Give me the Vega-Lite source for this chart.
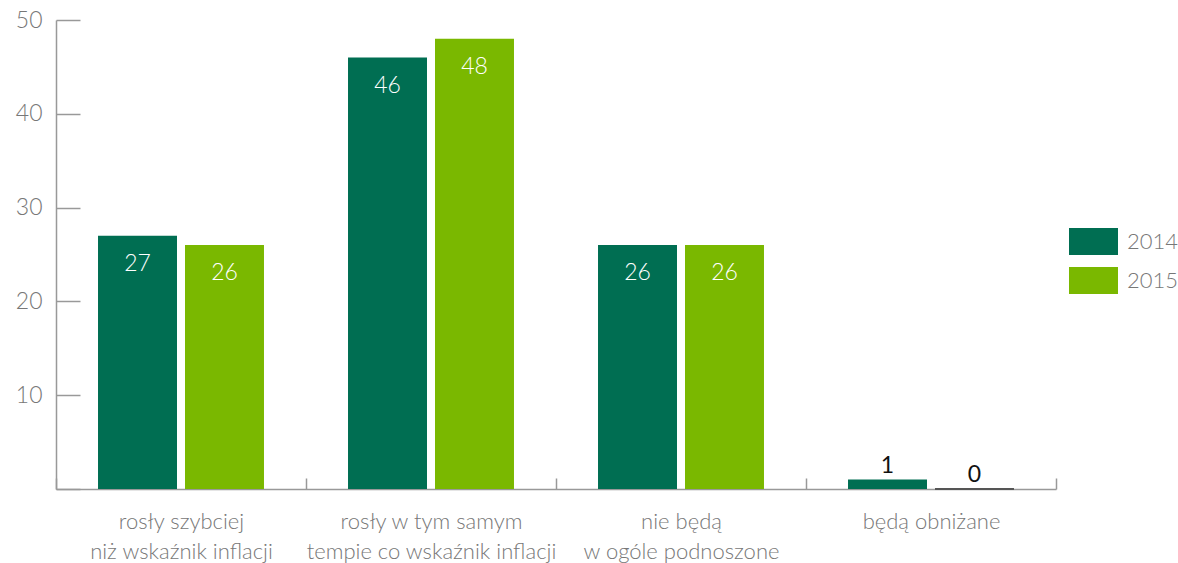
{
  "$schema": "https://vega.github.io/schema/vega-lite/v6.json",
  "width": 1000,
  "height": 469,
  "autosize": {"type": "none"},
  "padding": {"left": 56, "top": 20, "right": 122, "bottom": 74},
  "config": {
    "view": {"stroke": null},
    "font": "Lato",
    "axis": {"domainColor": "#999999", "tickColor": "#999999", "labelColor": "#777777", "grid": false, "title": null, "labelFont": "Lato", "labelFontWeight": 300, "domainWidth": 1.5, "tickWidth": 1.5}
  },
  "data": {
    "values": [
      {"cat": "rosły szybciej|niż wskaźnik inflacji", "year": "2014", "v": 27},
      {"cat": "rosły szybciej|niż wskaźnik inflacji", "year": "2015", "v": 26},
      {"cat": "rosły w tym samym|tempie co wskaźnik inflacji", "year": "2014", "v": 46},
      {"cat": "rosły w tym samym|tempie co wskaźnik inflacji", "year": "2015", "v": 48},
      {"cat": "nie będą|w ogóle podnoszone", "year": "2014", "v": 26},
      {"cat": "nie będą|w ogóle podnoszone", "year": "2015", "v": 26},
      {"cat": "będą obniżane", "year": "2014", "v": 1},
      {"cat": "będą obniżane", "year": "2015", "v": 0}
    ]
  },
  "encoding": {
    "x": {
      "field": "cat", "type": "nominal", "sort": null,
      "scale": {"paddingInner": 0, "paddingOuter": 0},
      "axis": {"labelAngle": 0, "labelExpr": "split(datum.label, '|')", "labelFontSize": 22, "labelLineHeight": 30, "labelPadding": 33, "tickBand": "extent", "tickSize": -11, "labelLimit": 300}
    },
    "xOffset": {"field": "year", "type": "nominal", "scale": {"paddingInner": 0.092, "paddingOuter": 0.483}},
    "y": {
      "field": "v", "type": "quantitative",
      "scale": {"domain": [0, 50]},
      "axis": {"values": [0, 10, 20, 30, 40, 50], "labelExpr": "datum.value == 0 ? '' : datum.label", "labelFontSize": 23, "tickSize": -24, "labelPadding": 38}
    }
  },
  "layer": [
    {
      "mark": {"type": "bar", "strokeWidth": 2},
      "encoding": {
        "color": {
          "field": "year", "type": "nominal",
          "scale": {"domain": ["2014", "2015"], "range": ["#006E52", "#7AB800"]},
          "legend": {"title": null, "orient": "none", "legendX": 1013, "legendY": 197, "symbolType": "M-1,-0.55H1V0.55H-1Z", "symbolSize": 2401, "symbolStrokeWidth": 0, "labelFontSize": 22, "labelFontWeight": 300, "labelColor": "#777777", "labelOffset": 9, "rowPadding": 1, "labelFont": "Lato"}
        },
        "stroke": {"condition": {"test": "datum.v === 0", "value": "#555555"}, "value": "transparent"}
      }
    },
    {
      "transform": [{"filter": "datum.v >= 5"}],
      "mark": {"type": "text", "baseline": "middle", "dy": 28, "fontSize": 23, "fontWeight": 300, "color": "white"},
      "encoding": {"text": {"field": "v", "type": "quantitative"}}
    },
    {
      "transform": [{"filter": "datum.v < 5"}],
      "mark": {"type": "text", "baseline": "middle", "dy": -14, "fontSize": 23, "fontWeight": 400, "color": "#111111"},
      "encoding": {"text": {"field": "v", "type": "quantitative"}}
    }
  ]
}
